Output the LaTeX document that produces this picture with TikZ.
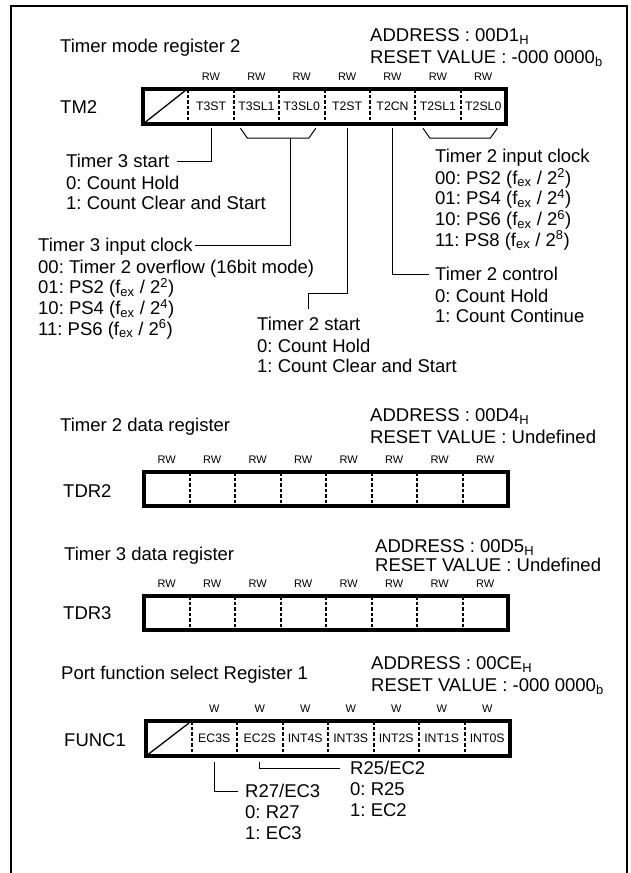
\documentclass[tikz,border=0pt]{standalone}
\usepackage{fontspec}
\setmainfont{Liberation Sans}
\usetikzlibrary{positioning}
\frenchspacing

\newcommand{\fexdiv}[1]{(f\textsubscript{ex} / 2\smash{\textsuperscript{#1}})}

\tikzset{
  every node/.style={font=\fontsize{18.5}{20.7}\selectfont, inner sep=0pt},
  outerframe/.style={line width=2pt},
  regbox/.style={line width=3.2pt},
  cellsep/.style={line width=2pt, dash pattern=on 3.5pt off 2pt},
  diagline/.style={line width=1.3pt},
  leadline/.style={line width=1pt},
  access/.style={font=\fontsize{11}{12}\selectfont},
  bitname/.style={font=\fontsize{12.3}{13}\selectfont, minimum width=45pt, minimum height=35pt},
  heading/.style={anchor=west, text height=13pt, text depth=0pt},
  optlist/.style={align=left},
}

\begin{document}
\begin{tikzpicture}[x=1pt,y=-1pt]

\useasboundingbox (0,0) rectangle (631,873);
\draw[outerframe] (11,873) -- (11,6) -- (627,6) -- (627,873);

\node[heading] (tm2-title) at (60,46) {Timer mode register 2};
\node[heading] (tm2-addr) at (370,35) {ADDRESS : 00D1\textsubscript{H}};
\node[heading] (tm2-reset) at (370,57) {RESET VALUE : -000 0000\textsubscript{b}};
\node[heading] (tm2-name) at (60,107) {TM2};
\draw[regbox] (143,89) rectangle (506,124);
\draw[diagline] (143,124) -- (186,90);
\foreach \i in {1,...,7} \draw[cellsep] (143+45.375*\i,89) -- (143+45.375*\i,124);
\foreach \i in {2,...,8} \node[access] (tm2-rw\i) at (143+45.375*\i-22.7,77) {RW};
\foreach \i/\nm/\txt in {2/t3st/T3ST, 3/t3sl1/T3SL1, 4/t3sl0/T3SL0, 5/t2st/T2ST, 6/t2cn/T2CN, 7/t2sl1/T2SL1, 8/t2sl0/T2SL0}
  \node[bitname] (\nm) at (143+45.375*\i-22.7,106.5) {\txt};

\node[heading] (t3start) at (66,161) {Timer 3 start};
\node[optlist, below right=7.7pt and 0pt of t3start.south west] (t3start-opts) {0: Count Hold\\1: Count Clear and Start};
\node[heading] (t2clk) at (435,156) {Timer 2 input clock};
\node[optlist, below right=7.7pt and 0pt of t2clk.south west] (t2clk-opts) {00: PS2 \fexdiv{2}\\01: PS4 \fexdiv{4}\\10: PS6 \fexdiv{6}\\11: PS8 \fexdiv{8}};
\node[heading] (t3clk) at (38,245) {Timer 3 input clock};
\node[optlist, below right=7.7pt and 0pt of t3clk.south west] (t3clk-opts) {00: Timer 2 overflow (16bit mode)\\01: PS2 \fexdiv{2}\\10: PS4 \fexdiv{4}\\11: PS6 \fexdiv{6}};
\node[heading] (t2ctl) at (435,274) {Timer 2 control};
\node[optlist, below right=7.7pt and 0pt of t2ctl.south west] (t2ctl-opts) {0: Count Hold\\1: Count Continue};
\node[heading] (t2start) at (257,324) {Timer 2 start};
\node[optlist, below right=7.7pt and 0pt of t2start.south west] (t2start-opts) {0: Count Hold\\1: Count Clear and Start};

\draw[leadline] ([yshift=-4pt]t3st.south) |- ([xshift=7pt]t3start.east);
\draw[leadline] ([shift={(-16pt,-4pt)}]t3sl1.south) -- ++(7pt,-10pt) -- ([shift={(7pt,-14pt)}]t3sl0.south) -- ++(7pt,10pt);
\coordinate (t3clk-join) at ([shift={(-11pt,-14pt)}]t3sl0.south);
\draw[leadline] (t3clk-join) |- ([xshift=2pt]t3clk.east);
\draw[leadline] ([yshift=-4pt]t2st.south) -- ++(0pt,-165pt) -| ([yshift=8pt]t2start.north);
\draw[leadline] ([yshift=-4pt]t2cn.south) |- ([xshift=-6pt]t2ctl.west);
\draw[leadline] ([shift={(-15pt,-4pt)}]t2sl1.south) -- ++(7pt,-10pt) -- ([shift={(7pt,-14pt)}]t2sl0.south) -- ++(7pt,10pt);

\node[heading] (tdr2-title) at (60,425) {Timer 2 data register};
\node[heading] (tdr2-addr) at (370,415) {ADDRESS : 00D4\textsubscript{H}};
\node[heading] (tdr2-reset) at (370,437) {RESET VALUE : Undefined};
\node[heading] (tdr2-name) at (63,491) {TDR2};
\draw[regbox] (144,472) rectangle (508,506);
\foreach \i in {1,...,7} \draw[cellsep] (144+45.5*\i,472) -- (144+45.5*\i,506);
\foreach \i in {1,...,8} \node[access] (tdr2-rw\i) at (144+45.5*\i-22.75,460) {RW};

\node[heading] (tdr3-title) at (64,554) {Timer 3 data register};
\node[heading] (tdr3-addr) at (375,546) {ADDRESS : 00D5\textsubscript{H}};
\node[heading] (tdr3-reset) at (375,565) {RESET VALUE : Undefined};
\node[heading] (tdr3-name) at (63,613) {TDR3};
\draw[regbox] (144,596) rectangle (508,630);
\foreach \i in {1,...,7} \draw[cellsep] (144+45.5*\i,596) -- (144+45.5*\i,630);
\foreach \i in {1,...,8} \node[access] (tdr3-rw\i) at (144+45.5*\i-22.75,584) {RW};

\node[heading] (func1-title) at (61,673) {Port function select Register 1};
\node[heading] (func1-addr) at (371,663) {ADDRESS : 00CE\textsubscript{H}};
\node[heading] (func1-reset) at (371,685) {RESET VALUE : -000 0000\textsubscript{b}};
\node[heading] (func1-name) at (64,740) {FUNC1};
\draw[regbox] (146,721) rectangle (510,756);
\draw[diagline] (146,756) -- (189,723);
\foreach \i in {1,...,7} \draw[cellsep] (146+45.5*\i,721) -- (146+45.5*\i,756);
\foreach \i in {2,...,8} \node[access] (func1-w\i) at (146+45.5*\i-22.75,709) {W};
\foreach \i/\nm/\txt in {2/ec3s/EC3S, 3/ec2s/EC2S, 4/int4s/INT4S, 5/int3s/INT3S, 6/int2s/INT2S, 7/int1s/INT1S, 8/int0s/INT0S}
  \node[bitname] (\nm) at (146+45.5*\i-22.75,738.5) {\txt};

\node[heading] (r25) at (350,768) {R25/EC2};
\node[optlist, below right=7.7pt and 0pt of r25.south west] (r25-opts) {0: R25\\1: EC2};
\node[heading] (r27) at (245,791) {R27/EC3};
\node[optlist, below right=7.7pt and 0pt of r27.south west] (r27-opts) {0: R27\\1: EC3};
\draw[leadline] ([yshift=-6pt]ec3s.south) |- ([xshift=-7pt]r27.west);
\draw[leadline] ([yshift=-6pt]ec2s.south) |- ([xshift=-10pt]r25.west);

\end{tikzpicture}
\end{document}
